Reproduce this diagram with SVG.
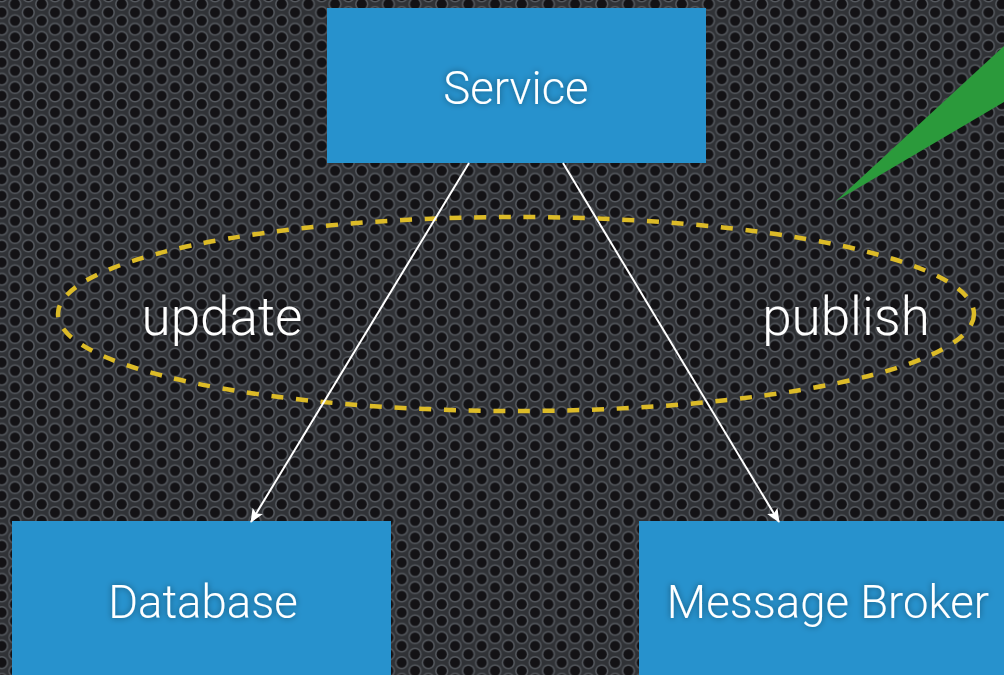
<svg xmlns="http://www.w3.org/2000/svg" width="1004" height="675" viewBox="0 0 1004 675">
  <defs>
    <pattern id="mesh" patternUnits="userSpaceOnUse" x="8.33" y="0" width="26.67" height="16.67">
      <rect width="26.67" height="16.67" fill="#303236"/>
      <g fill="#565a60">
        <circle cx="6.67" cy="4.17" r="6.6"/>
        <circle cx="6.67" cy="20.84" r="6.6"/>
        <circle cx="20" cy="12.5" r="6.6"/>
        <circle cx="20" cy="-4.17" r="6.6"/>
      </g>
      <g fill="#131215">
        <circle cx="6.67" cy="4.17" r="5.1"/>
        <circle cx="6.67" cy="20.84" r="5.1"/>
        <circle cx="20" cy="12.5" r="5.1"/>
        <circle cx="20" cy="-4.17" r="5.1"/>
      </g>
    </pattern>
    <filter id="glow" x="-20%" y="-40%" width="140%" height="180%">
      <feDropShadow dx="0" dy="0" stdDeviation="3" flood-color="#000" flood-opacity="0.45"/>
    </filter>
    <marker id="arrow" viewBox="0 0 14 12" refX="13" refY="6" markerWidth="14" markerHeight="12" markerUnits="userSpaceOnUse" orient="auto">
      <path d="M0,0 L14,6 L0,12 L3,6 Z" fill="#ffffff"/>
    </marker>
    <style>
      .box { fill: #2792cd; }
      .label { fill: #ffffff; font-family: Roboto, "Liberation Sans", sans-serif; font-weight: 300; text-anchor: middle; filter: url(#glow); }
      .conn { stroke: #ffffff; stroke-width: 2; fill: none; }
    </style>
  </defs>

  <rect x="0" y="0" width="1004" height="675" fill="url(#mesh)"/>

  <polygon id="callout-tail" points="836,201 1004,46 1004,102" fill="#2b9a3b"/>

  <g id="service">
    <rect class="box" x="327" y="8" width="379" height="155"/>
    <text class="label" x="516" y="104" font-size="45.5">Service</text>
  </g>

  <g id="database">
    <rect class="box" x="12" y="521" width="379" height="160"/>
    <text class="label" x="203" y="618" font-size="45.5">Database</text>
  </g>

  <g id="message-broker">
    <rect class="box" x="639" y="521" width="379" height="160"/>
    <text class="label" x="828" y="618" font-size="45.5">Message Broker</text>
  </g>

  <g id="group-ellipse">
    <ellipse cx="516" cy="314" rx="458" ry="97" fill="none" stroke="#dcbb28" stroke-width="4.5" stroke-dasharray="12 12.7"/>
    <text class="label" x="222" y="335" font-size="53">update</text>
    <text class="label" x="846" y="335" font-size="53">publish</text>
  </g>

  <g id="connectors">
    <line class="conn" x1="469" y1="163" x2="251" y2="522" marker-end="url(#arrow)"/>
    <line class="conn" x1="563" y1="163" x2="779" y2="522" marker-end="url(#arrow)"/>
  </g>
</svg>
